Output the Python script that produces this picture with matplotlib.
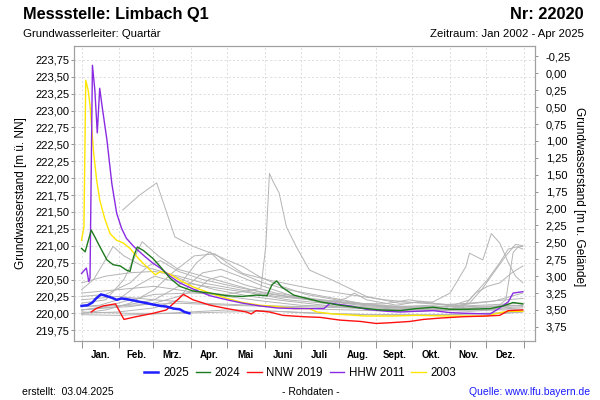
import matplotlib
matplotlib.use("Agg")
import matplotlib.pyplot as plt
from matplotlib.ticker import FixedLocator, NullFormatter, FixedFormatter
import numpy as np

plt.rcParams['font.family'] = ['Liberation Sans', 'DejaVu Sans']

# ---------------- data (day of year, level m ü. NN) ----------------
month_labels = ["Jan.", "Feb.", "Mrz.", "Apr.", "Mai", "Juni", "Juli",
                "Aug.", "Sept.", "Okt.", "Nov.", "Dez."]
month_starts = [0, 31, 59, 90, 120, 151, 181, 212, 243, 273, 304, 334, 365]
left_ticks = [219.75, 220.00, 220.25, 220.50, 220.75, 221.00, 221.25, 221.50,
              221.75, 222.00, 222.25, 222.50, 222.75, 223.00, 223.25, 223.50, 223.75]
right_ticks = [-0.25, 0.00, 0.25, 0.50, 0.75, 1.00, 1.25, 1.50, 1.75, 2.00,
               2.25, 2.50, 2.75, 3.00, 3.25, 3.50, 3.75]
ground_level = 223.55

x_2025 = [0, 5, 9, 12, 16, 20, 25, 29, 33, 37, 43, 48, 54, 59, 65, 70, 76, 81, 85, 89]
y_2025 = [220.11, 220.12, 220.16, 220.22, 220.28, 220.26, 220.23, 220.20, 220.22,
          220.21, 220.19, 220.17, 220.15, 220.13, 220.11, 220.10, 220.07, 220.06,
          220.02, 220.00]

x_2024 = [0, 3, 8, 11, 15, 21, 26, 32, 37, 40, 43, 46, 51, 59, 65, 73, 81, 92, 106,
          120, 133, 144, 153, 157, 161, 165, 175, 188, 197, 213, 230, 246, 263, 276,
          290, 304, 318, 337, 348, 356, 364]
y_2024 = [220.96, 220.91, 221.23, 221.13, 220.99, 220.79, 220.72, 220.70, 220.64,
          220.62, 220.84, 220.98, 220.93, 220.81, 220.69, 220.52, 220.40, 220.33,
          220.30, 220.26, 220.25, 220.27, 220.26, 220.42, 220.48, 220.39, 220.27,
          220.21, 220.17, 220.12, 220.08, 220.05, 220.04, 220.07, 220.09, 220.06,
          220.06, 220.07, 220.11, 220.16, 220.14]

x_nnw2019 = [8, 12, 18, 28, 35, 45, 59, 70, 84, 92, 106, 120, 136, 140, 144, 155,
             166, 183, 197, 213, 230, 243, 254, 271, 282, 296, 315, 334, 345, 352, 364]
y_nnw2019 = [220.02, 220.07, 220.11, 220.14, 219.91, 219.95, 220.00, 220.05, 220.28,
             220.20, 220.12, 220.07, 220.02, 219.99, 220.04, 220.02, 219.97, 219.95,
             219.94, 219.90, 219.88, 219.85, 219.86, 219.88, 219.91, 219.93, 219.95,
             219.96, 219.97, 220.04, 220.05]

x_hhw2011 = [0, 4, 6, 7, 9, 11, 13, 15, 17, 21, 25, 29, 33, 37, 43, 51, 59, 65, 73,
             81, 92, 106, 120, 133, 147, 161, 175, 188, 200, 205, 221, 235, 252, 263,
             276, 290, 304, 318, 337, 345, 352, 356, 364]
y_hhw2011 = [220.59, 220.67, 220.47, 220.52, 223.67, 223.30, 222.67, 223.33, 223.06,
             222.56, 221.92, 221.48, 221.26, 221.11, 220.99, 220.86, 220.74, 220.67,
             220.55, 220.45, 220.36, 220.26, 220.20, 220.15, 220.11, 220.08, 220.07,
             220.07, 220.07, 220.15, 220.11, 220.06, 220.03, 220.02, 220.03, 220.04,
             220.01, 220.00, 219.99, 220.08, 220.17, 220.30, 220.32]

x_2003 = [0, 2, 3.5, 5.5, 7, 10, 12.5, 15, 19, 23.5, 29, 34.5, 40, 48, 56.5, 61,
          65, 73, 81, 92, 106, 120, 133, 147, 161, 175, 188, 194, 208, 235, 257,
          276, 304, 334, 345, 352, 364]
y_2003 = [221.08, 221.28, 223.45, 223.30, 223.08, 222.37, 221.97, 221.68, 221.41,
          221.18, 221.08, 221.04, 220.96, 220.79, 220.64, 220.57, 220.62, 220.58,
          220.49, 220.39, 220.30, 220.22, 220.16, 220.12, 220.10, 220.07, 220.07,
          220.02, 219.99, 219.96, 219.96, 219.97, 219.96, 219.96, 220.01, 220.03, 220.03]

# other years (grey)
gray_a_x = [0, 20, 40, 60, 90, 120, 148, 152, 155, 158, 163, 169, 177, 188, 207, 235,
            262, 290, 304, 317, 320, 331, 338, 345, 352, 358, 364]
gray_a_y = [220.05, 220.10, 220.20, 220.28, 220.30, 220.28, 220.37, 221.00, 222.07,
            221.95, 221.78, 221.28, 220.99, 220.64, 220.49, 220.25, 220.15, 220.17,
            220.30, 220.69, 220.89, 220.79, 221.18, 221.04, 220.75, 220.55, 220.45]
gray_b_x = [34, 48, 62, 77, 92, 107, 120, 133, 147, 165, 185, 210, 240, 270, 300, 330, 364]
gray_b_y = [221.53, 221.75, 221.93, 221.13, 220.99, 220.89, 220.79, 220.69, 220.54,
            220.40, 220.28, 220.20, 220.12, 220.08, 220.05, 220.05, 220.08]
gray_c_x = [0, 30, 60, 80, 95, 106, 115, 130, 150, 170, 200, 230, 260, 290, 320, 350, 364]
gray_c_y = [220.05, 220.10, 220.20, 220.40, 220.75, 220.91, 220.75, 220.60, 220.45,
            220.35, 220.25, 220.15, 220.10, 220.12, 220.15, 220.20, 220.22]
gray_d_x = [0, 20, 35, 50, 64, 80, 100, 120, 150, 180, 210, 240, 270, 300, 330, 364]
gray_d_y = [220.15, 220.20, 220.50, 221.06, 220.84, 220.65, 220.55, 220.45, 220.30,
            220.22, 220.18, 220.12, 220.10, 220.10, 220.12, 220.15]
gray_e_x = [0, 10, 20, 26, 35, 50, 70, 90, 110, 140, 170, 200, 240, 280, 320, 364]
gray_e_y = [220.35, 220.50, 220.80, 220.99, 220.85, 220.70, 220.60, 220.45, 220.35,
            220.25, 220.18, 220.12, 220.08, 220.05, 220.05, 220.10]
gray_f_x = [0, 20, 40, 60, 75, 93, 110, 120, 133, 155, 188, 220, 250, 280, 310, 340, 364]
gray_f_y = [220.00, 220.05, 220.15, 220.35, 220.60, 220.85, 220.88, 220.75, 220.59,
            220.49, 220.37, 220.28, 220.20, 220.15, 220.12, 220.18, 220.30]
gray_g_x = [0, 30, 60, 90, 120, 150, 180, 210, 240, 270, 300, 320, 335, 345, 352, 358, 364]
gray_g_y = [220.30, 220.35, 220.40, 220.32, 220.25, 220.18, 220.12, 220.10, 220.06,
            220.05, 220.08, 220.20, 220.50, 220.75, 220.95, 220.98, 220.99]
gray_h_x = [0, 30, 60, 100, 140, 180, 220, 260, 300, 315, 325, 335, 345, 355, 364]
gray_h_y = [220.20, 220.25, 220.20, 220.15, 220.12, 220.10, 220.08, 220.05, 220.05,
            220.10, 220.30, 220.40, 220.45, 220.60, 220.70]
gray_i_x = [0, 20, 40, 60, 80, 100, 130, 160, 200, 230, 260, 290, 320, 340, 350, 356, 360, 364]
gray_i_y = [220.45, 220.55, 220.60, 220.62, 220.55, 220.45, 220.35, 220.25, 220.18,
            220.12, 220.08, 220.05, 220.03, 220.05, 220.20, 220.90, 220.98, 220.95]
gray_j_x = [0, 30, 60, 80, 90, 100, 115, 130, 150, 175, 200, 218, 225, 235, 260, 280,
            300, 330, 364]
gray_j_y = [220.00, 220.02, 220.08, 220.20, 220.45, 220.60, 220.65, 220.55, 220.40,
            220.25, 220.15, 220.22, 220.30, 220.20, 220.12, 220.18, 220.12, 220.05, 220.05]
gray_k_x = [0, 30, 60, 90, 120, 150, 180, 210, 240, 270, 300, 330, 364]
gray_k_y = [219.98, 219.97, 219.99, 220.02, 220.05, 220.04, 220.01, 219.99, 219.98,
            219.98, 219.98, 220.00, 220.02]
gray_l_x = [0, 20, 40, 55, 65, 80, 100, 130, 160, 190, 220, 250, 270, 290, 320, 364]
gray_l_y = [220.25, 220.28, 220.45, 220.70, 220.78, 220.62, 220.50, 220.38, 220.28,
            220.20, 220.15, 220.14, 220.20, 220.15, 220.10, 220.12]
gray_m_x = [0, 15, 30, 45, 60, 70, 85, 110, 140, 170, 200, 230, 260, 290, 320, 345, 364]
gray_m_y = [220.10, 220.12, 220.20, 220.40, 220.55, 220.50, 220.45, 220.38, 220.30,
            220.20, 220.15, 220.10, 220.08, 220.07, 220.08, 220.10, 220.12]
gray_n_x = [0, 20, 40, 60, 80, 95, 105, 115, 135, 160, 190, 220, 250, 280, 310, 340, 364]
gray_n_y = [220.05, 220.08, 220.10, 220.15, 220.25, 220.35, 220.50, 220.55, 220.42,
            220.30, 220.22, 220.15, 220.10, 220.08, 220.06, 220.10, 220.12]
gray_o_x = [0, 40, 80, 120, 160, 200, 240, 280, 320, 350, 364]
gray_o_y = [220.02, 220.00, 220.00, 220.02, 220.03, 220.00, 219.98, 219.97, 219.99,
            220.00, 220.02]
gray_p_x = [0, 40, 80, 120, 160, 200, 240, 280, 300, 320, 330, 340, 350, 358, 364]
gray_p_y = [220.10, 220.12, 220.15, 220.12, 220.10, 220.06, 220.04, 220.03, 220.05,
            220.15, 220.35, 220.60, 220.85, 221.02, 221.00]

gray_series = [(gray_a_x, gray_a_y), (gray_b_x, gray_b_y), (gray_c_x, gray_c_y),
               (gray_d_x, gray_d_y), (gray_e_x, gray_e_y), (gray_f_x, gray_f_y),
               (gray_g_x, gray_g_y), (gray_h_x, gray_h_y), (gray_i_x, gray_i_y),
               (gray_j_x, gray_j_y), (gray_k_x, gray_k_y), (gray_l_x, gray_l_y),
               (gray_m_x, gray_m_y), (gray_n_x, gray_n_y), (gray_o_x, gray_o_y),
               (gray_p_x, gray_p_y)]

# ---------------- figure ----------------
fig = plt.figure(figsize=(6, 4), dpi=100)
ax = fig.add_axes([74 / 600, 1 - 340.7 / 400, (534.7 - 74) / 600, (340.7 - 46) / 400])

grid_kw = dict(color='#d8d8d8', linewidth=0.6, linestyle=(0, (2.5, 2.5)))
for v in left_ticks:
    ax.axhline(v, zorder=0, **grid_kw)
for m in month_starts:
    ax.axvline(m, zorder=0, **grid_kw)

for gx, gy in gray_series:
    ax.plot(gx, gy, color='#b4b4b4', linewidth=0.7, zorder=1)

l03, = ax.plot(x_2003, y_2003, color='#ffe600', linewidth=1.0, zorder=2, label='2003')
l11, = ax.plot(x_hhw2011, y_hhw2011, color='#8a2be2', linewidth=1.0, zorder=3, label='HHW 2011')
l19, = ax.plot(x_nnw2019, y_nnw2019, color='#ff1010', linewidth=1.0, zorder=4, label='NNW 2019')
l24, = ax.plot(x_2024, y_2024, color='#1e7a1e', linewidth=1.0, zorder=5, label='2024')
l25, = ax.plot(x_2025, y_2025, color='#1f1fff', linewidth=1.8, zorder=6, label='2025')

ylo, yhi = 219.595, 223.955
ax.set_ylim(ylo, yhi)
ax.set_xlim(-6.2, 373.8)

ax.yaxis.set_major_locator(FixedLocator(left_ticks))
ax.set_yticklabels([f"{v:.2f}".replace('.', ',') for v in left_ticks])
ax.tick_params(axis='y', length=2, width=0.6, pad=1.5, labelsize=8, color='#808080')

ax.xaxis.set_major_locator(FixedLocator(month_starts))
ax.xaxis.set_major_formatter(NullFormatter())
mids = [(month_starts[i] + month_starts[i + 1]) / 2 for i in range(12)]
ax.xaxis.set_minor_locator(FixedLocator(mids))
ax.xaxis.set_minor_formatter(FixedFormatter(month_labels))
ax.tick_params(axis='x', which='major', length=5, width=0.6, color='#808080')
ax.tick_params(axis='x', which='minor', length=0, pad=6.5, labelsize=7)
for lab in ax.xaxis.get_minorticklabels():
    lab.set_fontweight('bold')

for sp in ax.spines.values():
    sp.set_color('#a0a0a0')
    sp.set_linewidth(0.8)

ax2 = ax.twinx()
ax2.set_ylim(ground_level - ylo, ground_level - yhi)
ax2.yaxis.set_major_locator(FixedLocator(right_ticks))
ax2.set_yticklabels([f"{v:.2f}".replace('.', ',') for v in right_ticks])
ax2.tick_params(axis='y', length=2, width=0.6, pad=6, labelsize=8, color='#808080')
for sp in ax2.spines.values():
    sp.set_color('#a0a0a0')
    sp.set_linewidth(0.8)

# axis titles
fig.text(20.7 / 600, 1 - 193.4 / 400, "Grundwasserstand [m ü. NN]", rotation=90,
         ha='center', va='center', fontsize=8.5)
fig.text(579 / 600, 1 - 197 / 400, "Grundwasserstand [m u. Gelände]", rotation=-90,
         ha='center', va='center', fontsize=8.5)

# header
fig.text(22.7 / 600, 1 - 19.3 / 400, "Messstelle: Limbach Q1", ha='left', va='baseline',
         fontsize=11.8, fontweight='bold')
fig.text(584 / 600, 1 - 19.3 / 400, "Nr: 22020", ha='right', va='baseline',
         fontsize=11.8, fontweight='bold')
fig.text(22.7 / 600, 1 - 37.3 / 400, "Grundwasserleiter: Quartär", ha='left',
         va='baseline', fontsize=8.2)
fig.text(584 / 600, 1 - 37.3 / 400, "Zeitraum: Jan 2002 - Apr 2025", ha='right',
         va='baseline', fontsize=8.2)

# legend
fig.legend(handles=[l25, l24, l19, l11, l03], loc='center',
           bbox_to_anchor=(0.5, 1 - 373 / 400), ncol=5, frameon=False,
           fontsize=8.3, handlelength=1.25, handletextpad=0.4, columnspacing=0.6,
           borderaxespad=0, borderpad=0)

# footer
fig.text(21.7 / 600, 1 - 394.7 / 400, "erstellt:  03.04.2025", ha='left',
         va='baseline', fontsize=7.5)
fig.text(310.5 / 600, 1 - 394.7 / 400, "- Rohdaten -", ha='center', va='baseline',
         fontsize=7.5)
fig.text(590 / 600, 1 - 394.7 / 400, "Quelle: www.lfu.bayern.de", ha='right',
         va='baseline', fontsize=7.5, color='#1a1aff')

fig.savefig("out.png", dpi=100)
